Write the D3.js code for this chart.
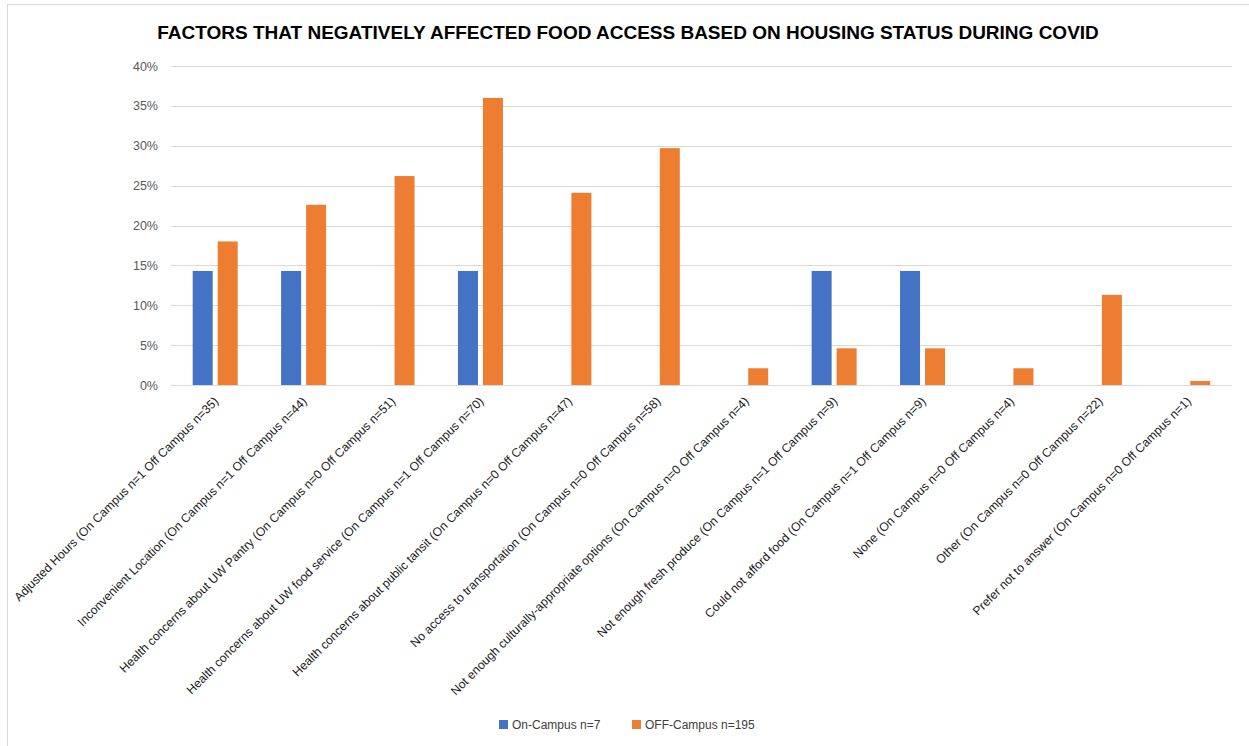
<!DOCTYPE html>
<html>
<head>
<meta charset="utf-8">
<script src="https://cdn.jsdelivr.net/npm/d3@7"></script>
<style>
  body { margin: 0; background: #fff; }
  svg { display: block; }
  .tick text { fill: #595959; }
</style>
</head>
<body>
<script>
// chart data
var categories = [
    "Adjusted Hours (On Campus n=1 Off Campus n=35)",
    "Inconvenient Location (On Campus n=1 Off Campus n=44)",
    "Health concerns about UW Pantry (On Campus n=0 Off Campus n=51)",
    "Health concerns about UW food service (On Campus n=1 Off Campus n=70)",
    "Health concerns about public tansit (On Campus n=0 Off Campus n=47)",
    "No access to transportation (On Campus n=0 Off Campus n=58)",
    "Not enough culturally-appropriate options (On Campus n=0 Off Campus n=4)",
    "Not enough fresh produce (On Campus n=1 Off Campus n=9)",
    "Could not afford food (On Campus n=1 Off Campus n=9)",
    "None (On Campus n=0 Off Campus n=4)",
    "Other (On Campus n=0 Off Campus n=22)",
    "Prefer not to answer (On Campus n=0 Off Campus n=1)"
];
var onCampus = [0.143, 0.143, 0, 0.143, 0, 0, 0, 0.143, 0.143, 0, 0, 0];
var offCampus = [0.180, 0.226, 0.262, 0.360, 0.241, 0.297, 0.021, 0.046, 0.046, 0.021, 0.113, 0.005];
var seriesNames = ["On-Campus n=7", "OFF-Campus n=195"];
var seriesColors = ["#4472c4", "#ed7d31"];
var yTicks = [0, 0.05, 0.10, 0.15, 0.20, 0.25, 0.30, 0.35, 0.40];

var width = 1249,
    height = 746;

var svg = d3.select("body")
    .append("svg")
    .attr("width", width)
    .attr("height", height);

//chart frame (only top and left edges visible)
svg.append("rect")
    .attr("x", 7.5)
    .attr("y", 4.5)
    .attr("width", 1300)
    .attr("height", 800)
    .attr("fill", "none")
    .attr("stroke", "#d9d9d9");

//title
svg.append("text")
    .attr("x", 628)
    .attr("y", 39)
    .attr("text-anchor", "middle")
    .attr("font-family", "Liberation Sans, Arial, sans-serif")
    .attr("font-weight", "bold")
    .attr("font-size", 19)
    .attr("fill", "#000")
    .text("FACTORS THAT NEGATIVELY AFFECTED FOOD ACCESS BASED ON HOUSING STATUS DURING COVID");

//plot area bounds
var plotLeft = 171, plotRight = 1232, plotTop = 66, plotBottom = 385;

var x = d3.scaleBand()
    .domain(categories)
    .range([plotLeft, plotRight]);

var y = d3.scaleLinear()
    .domain([0, 0.4])
    .range([plotBottom, plotTop]);

//gridlines
svg.append("g")
    .selectAll("line")
    .data(yTicks)
    .enter()
    .append("line")
    .attr("x1", plotLeft)
    .attr("x2", plotRight)
    .attr("y1", function(d){ return Math.round(y(d)) + 0.5; })
    .attr("y2", function(d){ return Math.round(y(d)) + 0.5; })
    .attr("stroke", "#d9d9d9")
    .attr("stroke-width", 1);

//y axis labels
var yAxis = svg.append("g")
    .attr("transform", "translate(" + (plotLeft - 13) + ",0)")
    .call(d3.axisLeft(y).tickValues(yTicks).tickFormat(d3.format(".0%")).tickSize(0).tickPadding(0));
yAxis.select(".domain").remove();
yAxis.selectAll("text")
    .attr("font-family", "Liberation Sans, Arial, sans-serif")
    .attr("font-size", 12.5);

//bars
var barW = 20, barGap = 5;
var series = [onCampus, offCampus];
series.forEach(function(vals, s){
    svg.append("g")
        .selectAll("rect")
        .data(vals)
        .enter()
        .append("rect")
        .attr("x", function(d, i){
            var c = x(categories[i]) + x.bandwidth() / 2;
            return s === 0 ? c - barGap / 2 - barW : c + barGap / 2;
        })
        .attr("y", function(d){ return y(d); })
        .attr("width", barW)
        .attr("height", function(d){ return plotBottom - y(d); })
        .attr("fill", seriesColors[s]);
});

//category labels rotated 45 degrees
svg.append("g")
    .selectAll("text")
    .data(categories)
    .enter()
    .append("text")
    .attr("transform", function(d){
        var cx = x(d) + x.bandwidth() / 2 + 4;
        return "translate(" + cx + "," + (plotBottom + 17) + ") rotate(-45)";
    })
    .attr("text-anchor", "end")
    .attr("font-family", "Liberation Sans, Arial, sans-serif")
    .attr("font-size", 12.2)
    .attr("fill", "#1a1a1a")
    .text(function(d){ return d; });

//legend
var legendX = [499, 632];
var legend = svg.append("g")
    .selectAll("g")
    .data(seriesNames)
    .enter()
    .append("g")
    .attr("transform", function(d, i){ return "translate(" + legendX[i] + ",720)"; });

legend.append("rect")
    .attr("width", 9)
    .attr("height", 9)
    .attr("fill", function(d, i){ return seriesColors[i]; });

legend.append("text")
    .attr("x", 13)
    .attr("y", 9)
    .attr("font-family", "Liberation Sans, Arial, sans-serif")
    .attr("font-size", 12)
    .attr("fill", "#404040")
    .text(function(d){ return d; });
</script>
</body>
</html>
